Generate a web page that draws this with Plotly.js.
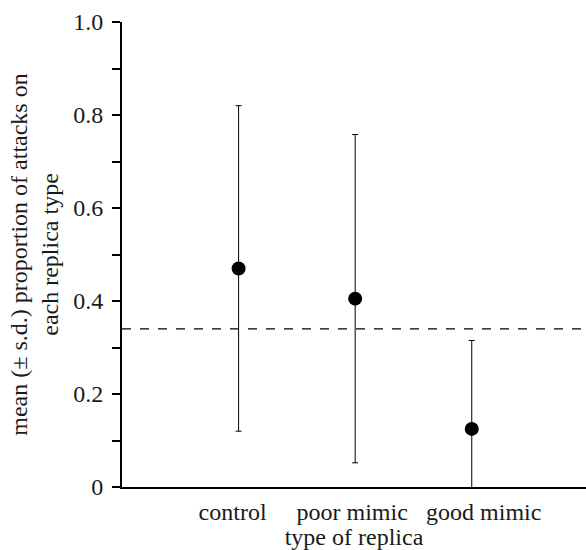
<!DOCTYPE html>
<html>
<head>
<meta charset="utf-8">
<script src="https://cdn.plot.ly/plotly-3.0.1.min.js"></script>
<style>html,body{margin:0;padding:0;background:#fff;}#chart{width:586px;height:550px;}</style>
</head>
<body>
<div id="chart"></div>
<script>
const categories = ["control\u00a0\u00a0", "poor mimic\u00a0", "\u00a0\u00a0\u00a0\u00a0good mimic"];
const positions = [1, 2, 3];
const means = [0.47, 0.405, 0.125];
const sds = [0.35, 0.353, 0.19];
const chanceLevel = 0.34;
const yTickVals = [0, 0.2, 0.4, 0.6, 0.8, 1.0];
const yTickText = ["0", "0.2", "0.4", "0.6", "0.8", "1.0"];
const xTitle = "type of replica\u00a0\u00a0";
const yTitle = "mean (± s.d.) proportion of attacks on<br>each replica type";

const font = {family: "Liberation Serif", size: 24, color: "#1a1a1a"};

const data = [{
  x: positions,
  y: means,
  type: "scatter",
  mode: "markers",
  marker: {color: "#000", size: 14},
  error_y: {type: "data", array: sds, visible: true, color: "#000", thickness: 1, width: 3},
  showlegend: false
}];

const layout = {
  width: 586, height: 550,
  margin: {l: 122, r: 0, t: 22, b: 63},
  paper_bgcolor: "#fff", plot_bgcolor: "#fff",
  font: font,
  xaxis: {
    range: [0, 3.98], tickvals: positions, ticktext: categories, tickangle: 0,
    showgrid: false, zeroline: false, showline: true, linecolor: "#000", linewidth: 2,
    ticks: "", tickfont: font, ticklabelstandoff: 2,
    title: {text: xTitle, font: font, standoff: 0}
  },
  yaxis: {
    range: [0, 1], tickvals: yTickVals, ticktext: yTickText,
    showgrid: false, zeroline: false, showline: true, linecolor: "#000", linewidth: 2,
    ticks: "outside", ticklen: 8, tickwidth: 2, tickcolor: "#000", tickfont: font, ticklabelstandoff: 4,
    minor: {dtick: 0.1, tick0: 0, ticks: "outside", ticklen: 8, tickwidth: 2, tickcolor: "#000", showgrid: false},
    title: {text: yTitle, font: font, standoff: 8}
  },
  shapes: [{
    type: "line", xref: "paper", x0: 0, x1: 1, yref: "y", y0: chanceLevel, y1: chanceLevel,
    line: {color: "#000", width: 1.2, dash: "dash"}
  }]
};

Plotly.newPlot("chart", data, layout, {displayModeBar: false, staticPlot: true});
</script>
</body>
</html>
